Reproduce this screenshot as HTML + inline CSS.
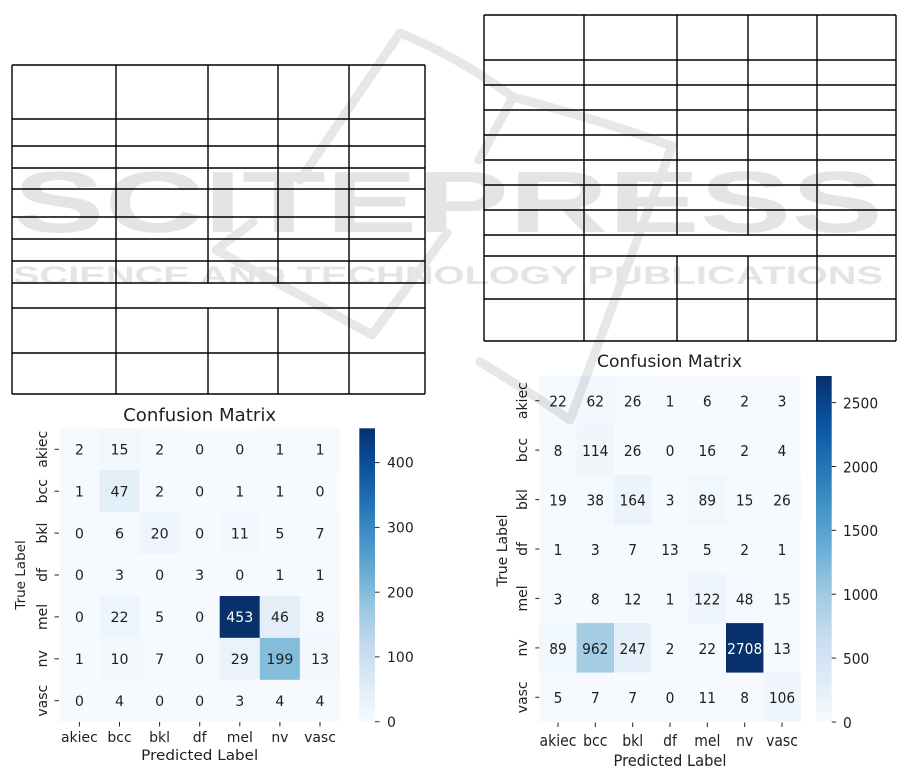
<!DOCTYPE html>
<html>
<head>
<meta charset="utf-8">
<style>
html,body{margin:0;padding:0;background:#fff;}
body{width:901px;height:768px;overflow:hidden;}
svg{display:block;}
.t{font-family:"DejaVu Sans","Liberation Sans",sans-serif;fill:#1f1f1f;}
</style>
</head>
<body>
<svg width="901" height="768" viewBox="0 0 901 768" xmlns="http://www.w3.org/2000/svg">
<defs>
<linearGradient id="blues" x1="0" y1="0" x2="0" y2="1">
<stop offset="0" stop-color="#08306b"/>
<stop offset="0.125" stop-color="#08519c"/>
<stop offset="0.25" stop-color="#2171b5"/>
<stop offset="0.375" stop-color="#4292c6"/>
<stop offset="0.5" stop-color="#6baed6"/>
<stop offset="0.625" stop-color="#9ecae1"/>
<stop offset="0.75" stop-color="#c6dbef"/>
<stop offset="0.875" stop-color="#deebf7"/>
<stop offset="1" stop-color="#f7fbff"/>
</linearGradient>
</defs>
<rect x="0" y="0" width="901" height="768" fill="#fff"/>

<!-- LEFT TABLE -->
<g stroke="#000" stroke-width="1.4" fill="none">
<line x1="12" y1="65" x2="425" y2="65"/>
<line x1="12" y1="119" x2="425" y2="119"/>
<line x1="12" y1="146" x2="425" y2="146"/>
<line x1="12" y1="168" x2="425" y2="168"/>
<line x1="12" y1="189" x2="425" y2="189"/>
<line x1="12" y1="217" x2="425" y2="217"/>
<line x1="12" y1="239" x2="425" y2="239"/>
<line x1="12" y1="261" x2="425" y2="261"/>
<line x1="12" y1="283" x2="425" y2="283"/>
<line x1="12" y1="308" x2="425" y2="308"/>
<line x1="12" y1="353" x2="425" y2="353"/>
<line x1="12" y1="394" x2="425" y2="394"/>
<line x1="12" y1="65" x2="12" y2="394"/>
<line x1="425" y1="65" x2="425" y2="394"/>
<line x1="116" y1="65" x2="116" y2="394"/>
<line x1="349" y1="65" x2="349" y2="394"/>
<line x1="208" y1="65" x2="208" y2="283"/>
<line x1="278" y1="65" x2="278" y2="283"/>
<line x1="208" y1="308" x2="208" y2="394"/>
<line x1="278" y1="308" x2="278" y2="394"/>
</g>

<!-- RIGHT TABLE -->
<g stroke="#000" stroke-width="1.4" fill="none">
<line x1="484" y1="15" x2="896" y2="15"/>
<line x1="484" y1="60" x2="896" y2="60"/>
<line x1="484" y1="85" x2="896" y2="85"/>
<line x1="484" y1="110" x2="896" y2="110"/>
<line x1="484" y1="135" x2="896" y2="135"/>
<line x1="484" y1="160" x2="896" y2="160"/>
<line x1="484" y1="185" x2="896" y2="185"/>
<line x1="484" y1="210" x2="896" y2="210"/>
<line x1="484" y1="235" x2="896" y2="235"/>
<line x1="484" y1="256" x2="896" y2="256"/>
<line x1="484" y1="299" x2="896" y2="299"/>
<line x1="484" y1="341" x2="896" y2="341"/>
<line x1="484" y1="15" x2="484" y2="341"/>
<line x1="896" y1="15" x2="896" y2="341"/>
<line x1="584" y1="15" x2="584" y2="341"/>
<line x1="817" y1="15" x2="817" y2="341"/>
<line x1="677" y1="15" x2="677" y2="235"/>
<line x1="748" y1="15" x2="748" y2="235"/>
<line x1="677" y1="256" x2="677" y2="341"/>
<line x1="748" y1="256" x2="748" y2="341"/>
</g>

<!-- LEFT CONFUSION MATRIX -->
<text class="t" x="199.6" y="421" font-size="17.5" text-anchor="middle" textLength="153" lengthAdjust="spacingAndGlyphs">Confusion Matrix</text>
<rect x="59.3" y="428.3" width="280.7" height="293.4" fill="#f6faff"/>
<g>
<rect x="99.4" y="428.3" width="40.1" height="41.9" fill="#f0f7fd"/>
<rect x="99.4" y="470.2" width="40.1" height="41.9" fill="#e2eef8"/>
<rect x="99.4" y="512.1" width="40.1" height="41.9" fill="#f4f9fe"/>
<rect x="139.5" y="512.1" width="40.1" height="41.9" fill="#eef5fc"/>
<rect x="219.7" y="512.1" width="40.1" height="41.9" fill="#f2f8fd"/>
<rect x="299.9" y="512.1" width="40.1" height="41.9" fill="#f4f9fe"/>
<rect x="99.4" y="596" width="40.1" height="41.9" fill="#edf5fc"/>
<rect x="219.7" y="596" width="40.1" height="41.9" fill="#08306b"/>
<rect x="259.8" y="596" width="40.1" height="41.9" fill="#e3eef9"/>
<rect x="299.9" y="596" width="40.1" height="41.9" fill="#f3f9fe"/>
<rect x="99.4" y="637.9" width="40.1" height="41.9" fill="#f3f8fe"/>
<rect x="139.5" y="637.9" width="40.1" height="41.9" fill="#f4f9fe"/>
<rect x="219.7" y="637.9" width="40.1" height="41.9" fill="#eaf3fb"/>
<rect x="259.8" y="637.9" width="40.1" height="41.9" fill="#84bcdb"/>
<rect x="299.9" y="637.9" width="40.1" height="41.9" fill="#f1f7fd"/>
<rect x="179.6" y="428.3" width="40.1" height="41.9" fill="#f7fbff"/>
<rect x="219.7" y="428.3" width="40.1" height="41.9" fill="#f7fbff"/>
<rect x="179.6" y="470.2" width="40.1" height="41.9" fill="#f7fbff"/>
<rect x="299.9" y="470.2" width="40.1" height="41.9" fill="#f7fbff"/>
</g>
<g class="t" font-size="14.2" text-anchor="middle">
<g transform="translate(0,454.5)">
<text x="79.4" y="0">2</text><text x="119.5" y="0">15</text><text x="159.6" y="0">2</text><text x="199.7" y="0">0</text><text x="239.8" y="0">0</text><text x="279.9" y="0">1</text><text x="320" y="0">1</text>
</g>
<g transform="translate(0,496.4)">
<text x="79.4" y="0">1</text><text x="119.5" y="0">47</text><text x="159.6" y="0">2</text><text x="199.7" y="0">0</text><text x="239.8" y="0">1</text><text x="279.9" y="0">1</text><text x="320" y="0">0</text>
</g>
<g transform="translate(0,538.3)">
<text x="79.4" y="0">0</text><text x="119.5" y="0">6</text><text x="159.6" y="0">20</text><text x="199.7" y="0">0</text><text x="239.8" y="0">11</text><text x="279.9" y="0">5</text><text x="320" y="0">7</text>
</g>
<g transform="translate(0,580.2)">
<text x="79.4" y="0">0</text><text x="119.5" y="0">3</text><text x="159.6" y="0">0</text><text x="199.7" y="0">3</text><text x="239.8" y="0">0</text><text x="279.9" y="0">1</text><text x="320" y="0">1</text>
</g>
<g transform="translate(0,622.1)">
<text x="79.4" y="0">0</text><text x="119.5" y="0">22</text><text x="159.6" y="0">5</text><text x="199.7" y="0">0</text><text x="239.8" y="0" fill="#ffffff">453</text><text x="279.9" y="0">46</text><text x="320" y="0">8</text>
</g>
<g transform="translate(0,664)">
<text x="79.4" y="0">1</text><text x="119.5" y="0">10</text><text x="159.6" y="0">7</text><text x="199.7" y="0">0</text><text x="239.8" y="0">29</text><text x="279.9" y="0">199</text><text x="320" y="0">13</text>
</g>
<g transform="translate(0,705.9)">
<text x="79.4" y="0">0</text><text x="119.5" y="0">4</text><text x="159.6" y="0">0</text><text x="199.7" y="0">0</text><text x="239.8" y="0">3</text><text x="279.9" y="0">4</text><text x="320" y="0">4</text>
</g>
</g>
<!-- left ticks -->
<g stroke="#262626" stroke-width="1">
<line x1="54.5" y1="449.3" x2="59" y2="449.3"/>
<line x1="54.5" y1="491.2" x2="59" y2="491.2"/>
<line x1="54.5" y1="533.1" x2="59" y2="533.1"/>
<line x1="54.5" y1="575" x2="59" y2="575"/>
<line x1="54.5" y1="616.9" x2="59" y2="616.9"/>
<line x1="54.5" y1="658.8" x2="59" y2="658.8"/>
<line x1="54.5" y1="700.7" x2="59" y2="700.7"/>
<line x1="79.4" y1="722" x2="79.4" y2="726.5"/>
<line x1="119.5" y1="722" x2="119.5" y2="726.5"/>
<line x1="159.6" y1="722" x2="159.6" y2="726.5"/>
<line x1="199.7" y1="722" x2="199.7" y2="726.5"/>
<line x1="239.8" y1="722" x2="239.8" y2="726.5"/>
<line x1="279.9" y1="722" x2="279.9" y2="726.5"/>
<line x1="320" y1="722" x2="320" y2="726.5"/>
</g>
<g class="t" font-size="14" text-anchor="middle">
<text transform="translate(47,449.3) rotate(-90)">akiec</text>
<text transform="translate(47,491.2) rotate(-90)">bcc</text>
<text transform="translate(47,533.1) rotate(-90)">bkl</text>
<text transform="translate(47,575) rotate(-90)">df</text>
<text transform="translate(47,616.9) rotate(-90)">mel</text>
<text transform="translate(47,658.8) rotate(-90)">nv</text>
<text transform="translate(47,700.7) rotate(-90)">vasc</text>
<text transform="translate(25,575) rotate(-90)" font-size="13.5">True Label</text>
<text x="79.4" y="742">akiec</text>
<text x="119.5" y="742">bcc</text>
<text x="159.6" y="742">bkl</text>
<text x="199.7" y="742">df</text>
<text x="239.8" y="742">mel</text>
<text x="279.9" y="742">nv</text>
<text x="320" y="742">vasc</text>
<text x="199.7" y="760" font-size="14.5" textLength="117" lengthAdjust="spacingAndGlyphs">Predicted Label</text>
</g>
<!-- left colorbar -->
<rect x="359.3" y="428.3" width="15.7" height="293.4" fill="url(#blues)"/>
<g stroke="#262626" stroke-width="1">
<line x1="375" y1="721.7" x2="379.5" y2="721.7"/>
<line x1="375" y1="656.9" x2="379.5" y2="656.9"/>
<line x1="375" y1="592.2" x2="379.5" y2="592.2"/>
<line x1="375" y1="527.4" x2="379.5" y2="527.4"/>
<line x1="375" y1="462.6" x2="379.5" y2="462.6"/>
</g>
<g class="t" font-size="14">
<text x="387" y="726.8">0</text>
<text x="387" y="662">100</text>
<text x="387" y="597.3">200</text>
<text x="387" y="532.5">300</text>
<text x="387" y="467.7">400</text>
</g>

<!-- RIGHT CONFUSION MATRIX -->
<text class="t" x="669.5" y="367" font-size="17" text-anchor="middle" textLength="145" lengthAdjust="spacingAndGlyphs">Confusion Matrix</text>
<rect x="539.3" y="376" width="261.4" height="346" fill="#f6faff"/>
<g>
<rect x="539.3" y="376" width="37.4" height="49.5" fill="#f5faff"/>
<rect x="576.6" y="376" width="37.4" height="49.5" fill="#f2f8fe"/>
<rect x="614" y="376" width="37.4" height="49.5" fill="#f5faff"/>
<rect x="576.6" y="425.4" width="37.4" height="49.5" fill="#eff6fc"/>
<rect x="614" y="425.4" width="37.4" height="49.5" fill="#f5faff"/>
<rect x="576.6" y="474.9" width="37.4" height="49.5" fill="#f4f9fe"/>
<rect x="614" y="474.9" width="37.4" height="49.5" fill="#ebf3fb"/>
<rect x="688.7" y="474.9" width="37.4" height="49.5" fill="#f0f7fd"/>
<rect x="763.3" y="474.9" width="37.4" height="49.5" fill="#f5faff"/>
<rect x="688.7" y="573.7" width="37.4" height="49.5" fill="#eef5fc"/>
<rect x="726" y="573.7" width="37.4" height="49.5" fill="#f3f9fe"/>
<rect x="539.3" y="623.1" width="37.4" height="49.5" fill="#f0f7fd"/>
<rect x="576.6" y="623.1" width="37.4" height="49.5" fill="#a4cde3"/>
<rect x="614" y="623.1" width="37.4" height="49.5" fill="#e5eff9"/>
<rect x="688.7" y="623.1" width="37.4" height="49.5" fill="#f5faff"/>
<rect x="726" y="623.1" width="37.4" height="49.5" fill="#08306b"/>
<rect x="763.3" y="672.6" width="37.4" height="49.4" fill="#eff6fc"/>
</g>
<g class="t" font-size="13.8" text-anchor="middle">
<g transform="translate(0,406.6) scale(1,1.12)">
<text x="558" y="0">22</text><text x="595.3" y="0">62</text><text x="632.7" y="0">26</text><text x="670" y="0">1</text><text x="707.3" y="0">6</text><text x="744.7" y="0">2</text><text x="782" y="0">3</text>
</g>
<g transform="translate(0,456) scale(1,1.12)">
<text x="558" y="0">8</text><text x="595.3" y="0">114</text><text x="632.7" y="0">26</text><text x="670" y="0">0</text><text x="707.3" y="0">16</text><text x="744.7" y="0">2</text><text x="782" y="0">4</text>
</g>
<g transform="translate(0,505.5) scale(1,1.12)">
<text x="558" y="0">19</text><text x="595.3" y="0">38</text><text x="632.7" y="0">164</text><text x="670" y="0">3</text><text x="707.3" y="0">89</text><text x="744.7" y="0">15</text><text x="782" y="0">26</text>
</g>
<g transform="translate(0,554.9) scale(1,1.12)">
<text x="558" y="0">1</text><text x="595.3" y="0">3</text><text x="632.7" y="0">7</text><text x="670" y="0">13</text><text x="707.3" y="0">5</text><text x="744.7" y="0">2</text><text x="782" y="0">1</text>
</g>
<g transform="translate(0,604.3) scale(1,1.12)">
<text x="558" y="0">3</text><text x="595.3" y="0">8</text><text x="632.7" y="0">12</text><text x="670" y="0">1</text><text x="707.3" y="0">122</text><text x="744.7" y="0">48</text><text x="782" y="0">15</text>
</g>
<g transform="translate(0,653.8) scale(1,1.12)">
<text x="558" y="0">89</text><text x="595.3" y="0">962</text><text x="632.7" y="0">247</text><text x="670" y="0">2</text><text x="707.3" y="0">22</text><text x="744.7" y="0" fill="#ffffff">2708</text><text x="782" y="0">13</text>
</g>
<g transform="translate(0,703.2) scale(1,1.12)">
<text x="558" y="0">5</text><text x="595.3" y="0">7</text><text x="632.7" y="0">7</text><text x="670" y="0">0</text><text x="707.3" y="0">11</text><text x="744.7" y="0">8</text><text x="782" y="0">106</text>
</g>
</g>
<g stroke="#262626" stroke-width="1">
<line x1="535.3" y1="400.7" x2="539.3" y2="400.7"/>
<line x1="535.3" y1="450.1" x2="539.3" y2="450.1"/>
<line x1="535.3" y1="499.6" x2="539.3" y2="499.6"/>
<line x1="535.3" y1="549" x2="539.3" y2="549"/>
<line x1="535.3" y1="598.4" x2="539.3" y2="598.4"/>
<line x1="535.3" y1="647.9" x2="539.3" y2="647.9"/>
<line x1="535.3" y1="697.3" x2="539.3" y2="697.3"/>
<line x1="558" y1="722.5" x2="558" y2="727"/>
<line x1="595.3" y1="722.5" x2="595.3" y2="727"/>
<line x1="632.7" y1="722.5" x2="632.7" y2="727"/>
<line x1="670" y1="722.5" x2="670" y2="727"/>
<line x1="707.3" y1="722.5" x2="707.3" y2="727"/>
<line x1="744.7" y1="722.5" x2="744.7" y2="727"/>
<line x1="782" y1="722.5" x2="782" y2="727"/>
</g>
<g class="t" font-size="14" text-anchor="middle">
<text transform="translate(527,400.7) rotate(-90)">akiec</text>
<text transform="translate(527,450.1) rotate(-90)">bcc</text>
<text transform="translate(527,499.6) rotate(-90)">bkl</text>
<text transform="translate(527,549) rotate(-90)">df</text>
<text transform="translate(527,598.4) rotate(-90)">mel</text>
<text transform="translate(527,647.9) rotate(-90)">nv</text>
<text transform="translate(527,697.3) rotate(-90)">vasc</text>
<text transform="translate(507,550.5) rotate(-90)">True Label</text>
<g transform="translate(0,746) scale(1,1.12)">
<text x="558" y="0">akiec</text>
<text x="595.3" y="0">bcc</text>
<text x="632.7" y="0">bkl</text>
<text x="670" y="0">df</text>
<text x="707.3" y="0">mel</text>
<text x="744.7" y="0">nv</text>
<text x="782" y="0">vasc</text>
</g>
<g transform="translate(0,766) scale(1,1.12)">
<text x="670" y="0" textLength="113" lengthAdjust="spacingAndGlyphs">Predicted Label</text>
</g>
</g>
<!-- right colorbar -->
<rect x="816" y="376" width="15.7" height="346" fill="url(#blues)"/>
<g stroke="#262626" stroke-width="1">
<line x1="831.7" y1="722" x2="836.2" y2="722"/>
<line x1="831.7" y1="658.1" x2="836.2" y2="658.1"/>
<line x1="831.7" y1="594.2" x2="836.2" y2="594.2"/>
<line x1="831.7" y1="530.3" x2="836.2" y2="530.3"/>
<line x1="831.7" y1="466.5" x2="836.2" y2="466.5"/>
<line x1="831.7" y1="402.6" x2="836.2" y2="402.6"/>
</g>
<g class="t" font-size="13.8">
<g transform="translate(843,727.8) scale(1,1.12)"><text x="0" y="0">0</text></g>
<g transform="translate(843,663.9) scale(1,1.12)"><text x="0" y="0">500</text></g>
<g transform="translate(843,600) scale(1,1.12)"><text x="0" y="0">1000</text></g>
<g transform="translate(843,536.1) scale(1,1.12)"><text x="0" y="0">1500</text></g>
<g transform="translate(843,472.3) scale(1,1.12)"><text x="0" y="0">2000</text></g>
<g transform="translate(843,408.4) scale(1,1.12)"><text x="0" y="0">2500</text></g>
</g>

<!-- WATERMARK (multiplied on top) -->
<g style="mix-blend-mode:multiply">
<g fill="none" stroke="#e7e7e7" stroke-width="9" stroke-linecap="round" stroke-linejoin="round">
<path d="M400,33 L300,180"/>
<path d="M400,33 Q455,55 513,97 Q600,120 672,146"/>
<path d="M672,146 L570,420"/>
<path d="M480,362 Q530,392 570,420"/>
<path d="M513,97 L479,160"/>
<path d="M253,222 L216,250 L300,295 L372,335 L447,233"/>
</g>
<text x="13" y="232" font-family="Liberation Sans, sans-serif" font-weight="bold" font-size="87" fill="#e4e4e4" textLength="870" lengthAdjust="spacingAndGlyphs">SCITEPRESS</text>
<text x="13" y="284" font-family="Liberation Sans, sans-serif" font-weight="bold" font-size="25" fill="#e4e4e4" textLength="870" lengthAdjust="spacingAndGlyphs">SCIENCE AND TECHNOLOGY PUBLICATIONS</text>
</g>
</svg>
</body>
</html>
